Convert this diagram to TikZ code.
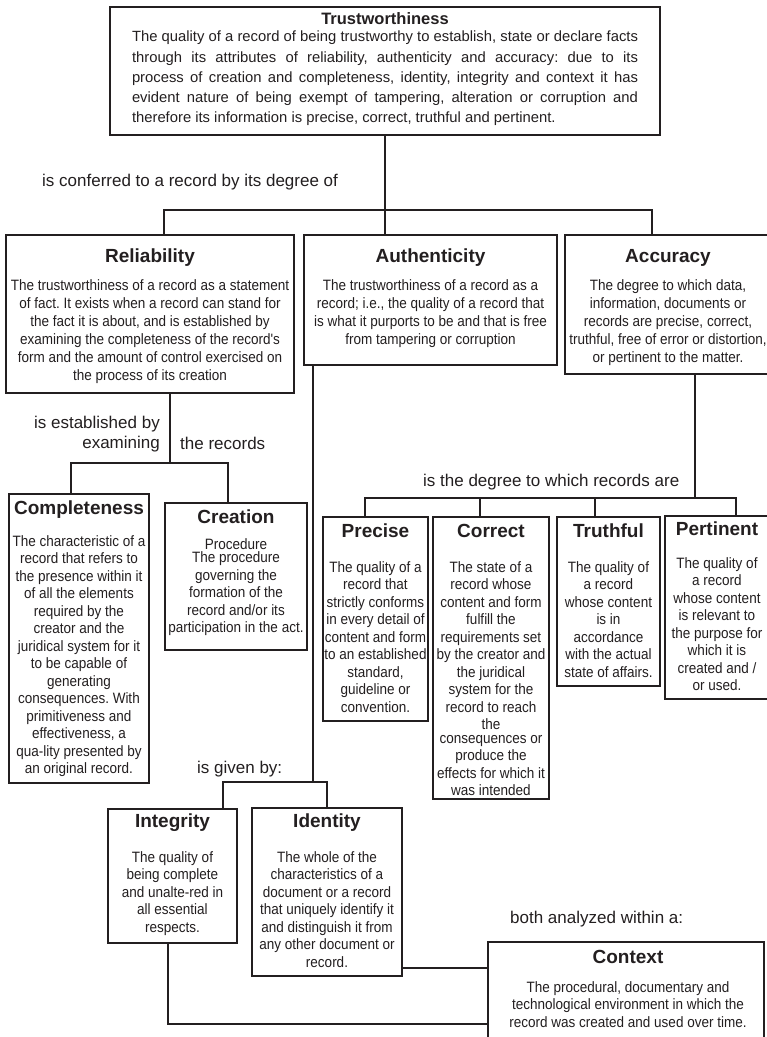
\documentclass[tikz,border=0pt]{standalone}
\usepackage{fontspec}
\setmainfont{Liberation Sans}
\newfontfamily\narrowfont[FakeStretch=0.9]{Liberation Sans}
\definecolor{ink}{HTML}{231F20}
\newcommand\bx[5]{\node[bxs,minimum width={(#4)-(#2)},minimum height={(#5)-(#3)}] (#1) at (#2,#3) {};}
\frenchspacing
\begin{document}
\begin{tikzpicture}[x=1pt,y=-1pt,
  bxs/.style={draw=ink,line width=1.8pt,inner sep=0pt,outer sep=0pt,anchor=north west},
  conn/.style={draw=ink,line width=1.8pt},
  ttl/.style={font=\fontsize{19}{22}\selectfont\bfseries,inner sep=0pt,text=ink,anchor=base},
  body/.style={font=\narrowfont\fontsize{15}{17.5}\selectfont,align=center,inner sep=0pt,anchor=north,text=ink},
  bodym/.style={body,font=\narrowfont\fontsize{15}{18}\selectfont},
  lbl/.style={font=\fontsize{17}{20}\selectfont,inner sep=0pt,text=ink}]
\useasboundingbox (0,0) rectangle (767,1037);
\fill[white] (0,0) rectangle (767,1037);

% boxes
\bx{trust}{110}{7}{660}{135}
\bx{rel}{6}{235}{294}{393}
\bx{auth}{304}{235}{557}{365}
\bx{acc}{565}{235}{771}{374}
\bx{comp}{9}{494}{149}{783}
\bx{crea}{165}{503}{307}{650}
\bx{prec}{323}{517}{428}{721}
\bx{corr}{433}{517}{549}{799}
\bx{truth}{557}{517}{660}{686}
\bx{pert}{665}{516}{769}{699}
\bx{integ}{108}{809}{237}{943}
\bx{ident}{252}{808}{402}{976}
\bx{cont}{488}{942}{764}{1050}

% Trustworthiness
\node[ttl,font=\fontsize{16.5}{20}\selectfont\bfseries] (trustH) at (385,24) {Trustworthiness};
\node[body,font=\fontsize{14.8}{20.2}\selectfont,align=left] (trustT) at (385,31) {%
\makebox[506pt][s]{The quality of a record of being trustworthy to establish, state or declare facts}\\
\makebox[506pt][s]{through its attributes of reliability, authenticity and accuracy: due to its}\\
\makebox[506pt][s]{process of creation and completeness, identity, integrity and context it has}\\
\makebox[506pt][s]{evident nature of being exempt of tampering, alteration or corruption and}\\
\makebox[506pt][l]{therefore its information is precise, correct, truthful and pertinent.}};

% Level 2
\node[ttl] (relH) at (150,262) {Reliability};
\node[bodym] (relT) at (150,279) {The trustworthiness of a record as a statement\\of fact. It exists when a record can stand for\\the fact it is about, and is established by\\examining the completeness of the record's\\form and the amount of control exercised on\\the process of its creation};
\node[ttl] (authH) at (430.5,262) {Authenticity};
\node[bodym] (authT) at (430.5,279) {The trustworthiness of a record as a\\record; i.e., the quality of a record that\\is what it purports to be and that is free\\from tampering or corruption};
\node[ttl] (accH) at (668,262) {Accuracy};
\node[bodym] (accT) at (668,279) {The degree to which data,\\information, documents or\\records are precise, correct,\\truthful, free of error or distortion,\\or pertinent to the matter.};

% Level 3 left
\node[ttl] (compH) at (79,514) {Completeness};
\node[body] (compT) at (79,535) {The characteristic of a\\record that refers to\\the presence within it\\of all the elements\\required by the\\creator and the\\juridical system for it\\to be capable of\\generating\\consequences. With\\primitiveness and\\effectiveness, a\\qua-lity presented by\\an original record.};
\node[ttl] (creaH) at (236,523) {Creation};
\node[body] (creaT) at (236,538) {Procedure\\[-4pt]The procedure\\governing the\\formation of the\\record and/or its\\participation in the act.};

% Level 3 right
\node[ttl] (precH) at (375.5,537) {Precise};
\node[body] (precT) at (375.5,561) {The quality of a\\record that\\strictly conforms\\in every detail of\\content and form\\to an established\\standard,\\guideline or\\convention.};
\node[ttl] (corrH) at (491,537) {Correct};
\node[body] (corrT) at (491,561) {The state of a\\record whose\\content and form\\fulfill the\\requirements set\\by the creator and\\the juridical\\system for the\\record to reach\\the\\[-4pt]consequences or\\produce the\\effects for which it\\was intended};
\node[ttl] (truthH) at (608.5,537) {Truthful};
\node[body] (truthT) at (608.5,561) {The quality of\\a record\\whose content\\is in\\accordance\\with the actual\\state of affairs.};
\node[ttl] (pertH) at (717,535) {Pertinent};
\node[body] (pertT) at (717,557) {The quality of\\a record\\whose content\\is relevant to\\the purpose for\\which it is\\created and /\\or used.};

% Level 4
\node[ttl] (integH) at (172.5,827) {Integrity};
\node[body] (integT) at (172.5,851) {The quality of\\being complete\\and unalte-red in\\all essential\\respects.};
\node[ttl] (identH) at (327,827) {Identity};
\node[body] (identT) at (327,851) {The whole of the\\characteristics of a\\document or a record\\that uniquely identify it\\and distinguish it from\\any other document or\\record.};
\node[ttl] (contH) at (628,963) {Context};
\node[body] (contT) at (628,981) {The procedural, documentary and\\technological environment in which the\\record was created and used over time.};

% labels
\node[lbl,anchor=base west] (l1) at (42,186) {is conferred to a record by its degree of};
\node[lbl,anchor=north east,align=right] (l2) at (160,416) {is established by\\examining};
\node[lbl,anchor=base west] (l3) at (180,449) {the records};
\node[lbl,anchor=base west] (l4) at (423,486) {is the degree to which records are};
\node[lbl,anchor=base west] (l5) at (197,773) {is given by:};
\node[lbl,anchor=base west] (l6) at (510,923) {both analyzed within a:};

% connectors
\coordinate (b1L) at (164,210);
\coordinate (b1R) at (652,210);
\draw[conn] (trust.south) -- (trust.south |- auth.north);
\draw[conn] (b1L |- rel.north) -- (b1L) -- (b1R) -- (b1R |- acc.north);

\coordinate (r1) at (170,463);
\coordinate (b2L) at (71,463);
\coordinate (b2R) at (228,463);
\draw[conn] (r1 |- rel.south) -- (r1);
\draw[conn] (b2L |- comp.north) -- (b2L) -- (b2R) -- (b2R |- crea.north);

\coordinate (a1) at (313,782);
\coordinate (b3L) at (223,782);
\coordinate (b3R) at (327,782);
\draw[conn] (a1 |- auth.south) -- (a1);
\draw[conn] (b3L |- integ.north) -- (b3L) -- (b3R) -- (b3R |- ident.north);

\coordinate (c1) at (695,498);
\coordinate (b4a) at (365,498);
\coordinate (b4b) at (480,498);
\coordinate (b4c) at (595,498);
\coordinate (b4d) at (736,498);
\draw[conn] (c1 |- acc.south) -- (c1);
\draw[conn] (b4a |- prec.north) -- (b4a) -- (b4d) -- (b4d |- pert.north);
\draw[conn] (b4b) -- (b4b |- corr.north);
\draw[conn] (b4c) -- (b4c |- truth.north);

\coordinate (k1) at (0,968);
\coordinate (k2) at (168,1024);
\draw[conn] (ident.east |- k1) -- (cont.west |- k1);
\draw[conn] (k2 |- integ.south) -- (k2) -- (cont.west |- k2);
\end{tikzpicture}
\end{document}
